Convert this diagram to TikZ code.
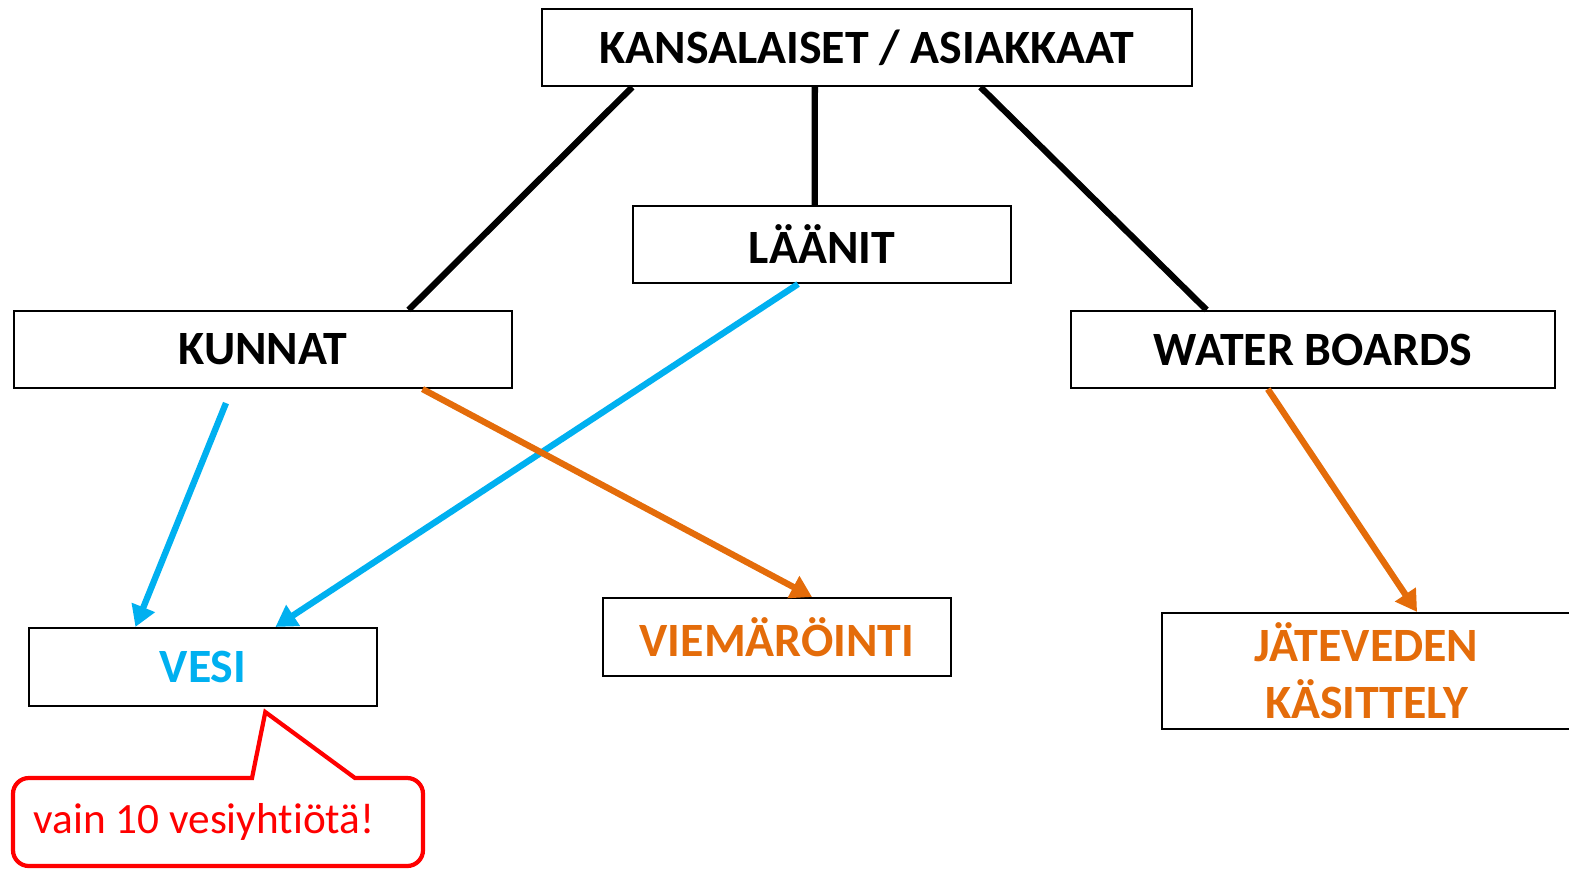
\documentclass[tikz,border=0pt]{standalone}
\usepackage{fontspec}
\setmainfont{Carlito}[Ligatures=NoCommon]
\usetikzlibrary{arrows.meta,calc}
\definecolor{vblue}{HTML}{00B0F0}
\definecolor{vorange}{HTML}{E46C0A}
\definecolor{vred}{HTML}{FF0000}
\tikzset{
  box/.style={draw=black, line width=0.6pt, inner sep=0pt, font=\fontsize{13.6}{16.2}\selectfont\bfseries, align=center},
  link/.style={line width=1.8pt, black},
  bluearrow/.style={line width=1.8pt, vblue, -{Triangle[length=6pt,width=6.8pt]}},
  orangearrow/.style={line width=1.8pt, vorange, -{Triangle[length=6pt,width=6.8pt]}},
  callout/.style={draw=vred, line width=1.2pt},
}
\begin{document}
\begin{tikzpicture}[x=0.01cm,y=-0.01cm]
\useasboundingbox (0,0) rectangle (1569,869);
\node[box, minimum width=650*0.01cm, minimum height=77*0.01cm] (top) at (867,47.5) {KANSALAISET / ASIAKKAAT};
\node[box, minimum width=378*0.01cm, minimum height=77*0.01cm] (laanit) at (822,244.5) {LÄÄNIT};
\node[box, minimum width=498*0.01cm, minimum height=77*0.01cm] (kunnat) at (263,349.5) {KUNNAT};
\node[box, minimum width=484*0.01cm, minimum height=77*0.01cm] (water) at (1313,349.5) {WATER BOARDS};
\node[box, text=vblue, minimum width=348*0.01cm, minimum height=78*0.01cm] (vesi) at (203,667) {VESI};
\node[box, text=vorange, minimum width=348*0.01cm, minimum height=78*0.01cm] (viem) at (777,637) {VIEMÄRÖINTI};
\node[box, text=vorange, minimum width=409*0.01cm, minimum height=116*0.01cm] (jate) at (1366.5,671) {JÄTEVEDEN\\KÄSITTELY};
% black links
\draw[link] ($(top.south west)!0.14!(top.south east)$) -- ($(kunnat.north west)!0.791!(kunnat.north east)$);
\draw[link] ($(top.south west)!0.42!(top.south east)$) -- ($(laanit.north west)!0.481!(laanit.north east)$);
\draw[link] ($(top.south west)!0.674!(top.south east)$) -- ($(water.north west)!0.281!(water.north east)$);
% blue arrows
\draw[bluearrow] ($(kunnat.south west)!0.426!(kunnat.south east)+(0,14)$) -- ($(vesi.north west)!0.307!(vesi.north east)$);
\draw[bluearrow] ($(laanit.south west)!0.437!(laanit.south east)$) -- ($(vesi.north west)!0.707!(vesi.north east)$);
% orange arrows
\draw[orangearrow] ($(kunnat.south west)!0.819!(kunnat.south east)$) -- ($(viem.north west)!0.60!(viem.north east)$);
\draw[orangearrow] ($(water.south west)!0.407!(water.south east)$) -- ($(jate.north west)!0.623!(jate.north east)$);
% callout
\node[text=vred, font=\fontsize{12.3}{15}\selectfont, anchor=west, inner sep=0pt] (note) at (33,822) {vain 10 vesiyhtiötä!};
\coordinate (tip) at ($(vesi.south west)!0.678!(vesi.south east)+(0,5)$);
\draw[callout] (355,778) [rounded corners=4.5pt] -- (423,778) -- (423,866) -- (13,866) -- (13,778) [sharp corners] -- (252,778) -- (tip) -- cycle;
\end{tikzpicture}
\end{document}
